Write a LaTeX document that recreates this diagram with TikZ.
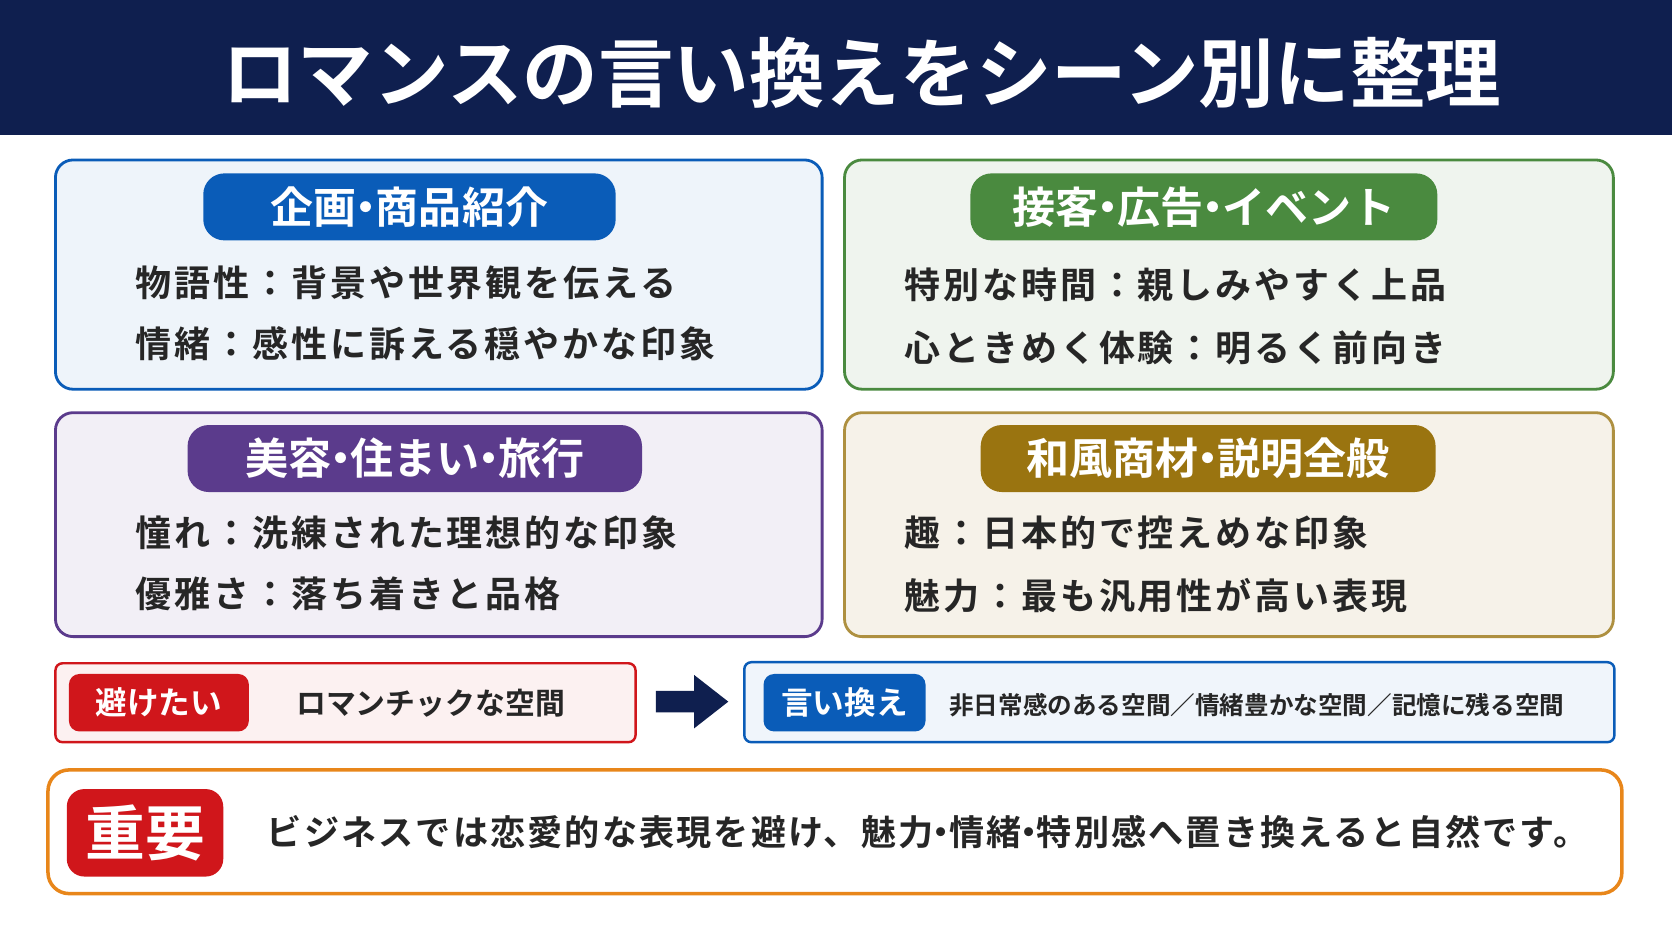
\documentclass[tikz,border=0pt]{standalone}
\usepackage{fontspec}
\setmainfont{Noto Sans CJK JP}[BoldFont={Noto Sans CJK JP Bold}]
\usepackage{xcolor}
\usetikzlibrary{positioning,calc}

\definecolor{navy}{HTML}{0F1F4F}
\definecolor{bluec}{HTML}{0A5CB8}
\definecolor{greenc}{HTML}{4A8A3F}
\definecolor{purplec}{HTML}{5B3B8C}
\definecolor{goldc}{HTML}{9A7410}
\definecolor{redc}{HTML}{D0161B}
\definecolor{orangec}{HTML}{E8861A}

\newcommand{\dt}{\kern-0.28em・\kern-0.28em}

\tikzset{
  panel/.style={draw=#1, line width=1.6pt, rounded corners=10pt},
  pill/.style={fill=#1, rounded corners=12pt, text=white, font=\fontsize{24.5}{28}\selectfont\bfseries, inner sep=0pt},
  item/.style={anchor=west, font=\fontsize{20.5}{24}\selectfont\bfseries\addfontfeatures{LetterSpace=8}, text=black!85, inner sep=0pt},
  tag/.style={fill=#1, rounded corners=6pt, text=white, font=\fontsize{18}{21}\selectfont\bfseries, inner sep=0pt}
}

\begin{document}
\begin{tikzpicture}[x=0.021327cm, y=-0.021327cm]
\useasboundingbox (0,0) rectangle (1568,882);
\fill[white] (0,0) rectangle (1568,882);

% title bar
\fill[navy] (0,0) rectangle (1568,127);
\node[text=white, font=\fontsize{43}{50}\selectfont\bfseries] (title) at (808,68) {ロマンスの言い換えをシーン別に整理};

% scene panels
\draw[panel=bluec, fill=bluec!7] (52,150) rectangle (771,365);
\draw[panel=greenc, fill=greenc!9] (792,150) rectangle (1513,365);
\draw[panel=purplec, fill=purplec!8] (52,387) rectangle (771,597);
\draw[panel=goldc!80, fill=goldc!9] (792,387) rectangle (1513,597);

\node[pill=bluec, minimum width=8.25cm, minimum height=1.34cm] (plan) at (384,194) {企画\dt 商品紹介};
\node[pill=greenc, minimum width=9.34cm, minimum height=1.34cm] (event) at (1129,194) {接客\dt 広告\dt イベント};
\node[pill=purplec, minimum width=9.09cm, minimum height=1.34cm] (beauty) at (389,430) {美容\dt 住まい\dt 旅行};
\node[pill=goldc, minimum width=9.1cm, minimum height=1.34cm] (wafu) at (1133,430) {和風商材\dt 説明全般};

\node[item] (plan1) at (127,265) {物語性：背景や世界観を伝える};
\node[item] (plan2) at (127,322) {情緒：感性に訴える穏やかな印象};
\node[item] (event1) at (848,267) {特別な時間：親しみやすく上品};
\node[item] (event2) at (848,326) {心ときめく体験：明るく前向き};
\node[item] (beauty1) at (127,500) {憧れ：洗練された理想的な印象};
\node[item] (beauty2) at (127,557) {優雅さ：落ち着きと品格};
\node[item] (wafu1) at (848,500) {趣：日本的で控えめな印象};
\node[item] (wafu2) at (848,559) {魅力：最も汎用性が高い表現};

% avoid -> replace
\draw[draw=redc, line width=1.4pt, fill=redc!6, rounded corners=4pt] (52,622) rectangle (596,696);
\node[tag=redc, minimum width=3.6cm, minimum height=1.15cm] (avoid) at (149,659) {避けたい};
\node[anchor=west, font=\fontsize{17}{20}\selectfont\bfseries, text=black!85] (avoidtxt) at (272,659) {ロマンチックな空間};
\fill[navy] (615,648) -- (651,648) -- (651,633) -- (683,658) -- (651,683) -- (651,668) -- (615,668) -- cycle;
\draw[draw=bluec, line width=1.4pt, fill=bluec!6, rounded corners=4pt] (698,621) rectangle (1514,696);
\node[tag=bluec, minimum width=3.24cm, minimum height=1.15cm] (swap) at (792,659) {言い換え};
\node[anchor=west, inner sep=0pt, font=\fontsize{14}{17}\selectfont\bfseries, text=black!85] (swaptxt) at (890,661) {非日常感のある空間／情緒豊かな空間／記憶に残る空間};

% important note
\draw[draw=orangec, line width=2pt, fill=white, rounded corners=12pt] (45,722) rectangle (1521,838);
\node[tag=redc, rounded corners=10pt, minimum width=3.13cm, minimum height=1.75cm, font=\fontsize{34}{38}\selectfont\bfseries] (key) at (136,781) {重要};
\node[anchor=west, inner sep=0pt, font=\fontsize{20}{24}\selectfont\bfseries\addfontfeatures{LetterSpace=6}, text=black!85] (keytxt) at (250,780) {ビジネスでは恋愛的な表現を避け、魅力\dt 情緒\dt 特別感へ置き換えると自然です。};
\end{tikzpicture}
\end{document}
